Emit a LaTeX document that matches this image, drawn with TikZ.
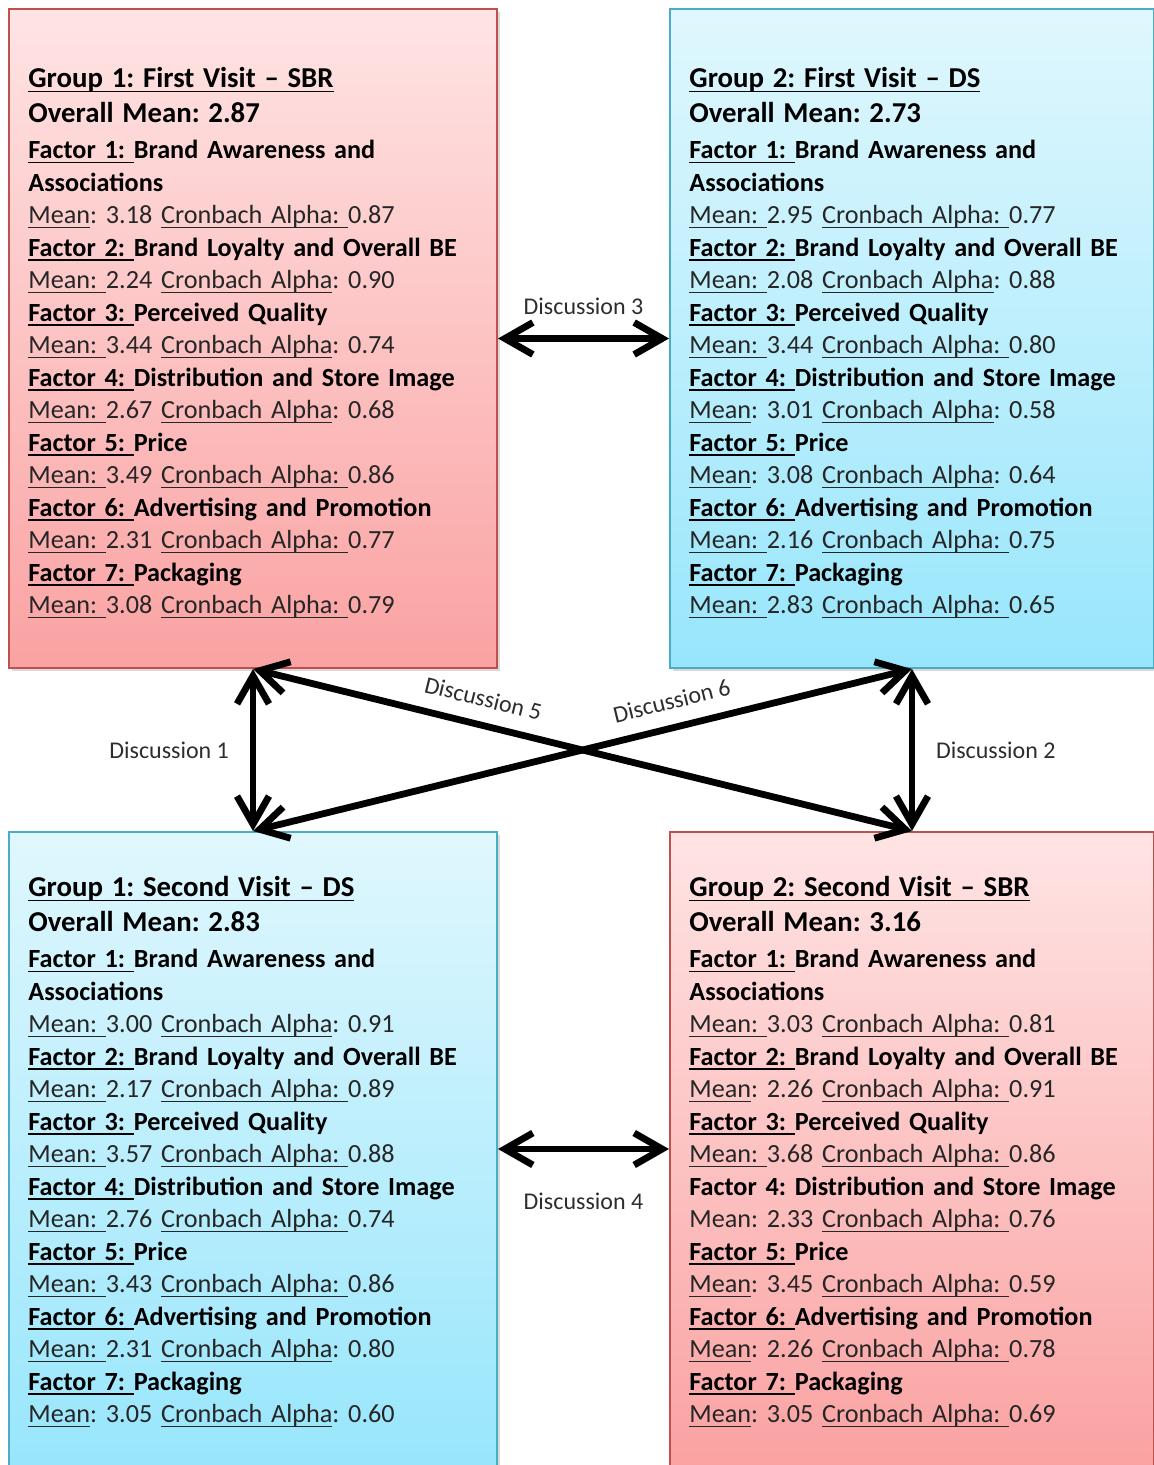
\documentclass[tikz,border=0pt]{standalone}
\usepackage{fontspec}
\setmainfont{Carlito}
\usetikzlibrary{arrows.meta,positioning,shadows}

\definecolor{redtop}{RGB}{255,228,228}
\definecolor{redbot}{RGB}{250,162,162}
\definecolor{redline}{RGB}{192,80,77}
\definecolor{bluetop}{RGB}{224,247,253}
\definecolor{bluebot}{RGB}{152,230,252}
\definecolor{blueline}{RGB}{75,172,198}
\definecolor{meantext}{RGB}{38,38,38}
\definecolor{disctext}{RGB}{45,45,45}

\newsavebox{\undbox}
\newcommand{\und}[1]{\leavevmode\sbox{\undbox}{#1}%
  \rlap{\rule[-2.2pt]{\wd\undbox}{0.7pt}}\usebox{\undbox}}
\newcommand{\ttl}[1]{{\fontsize{14.4}{17.5}\selectfont\bfseries\color{black}#1}}
\newcommand{\fac}[2]{{\bfseries\color{black}\und{Factor #1:\ }#2}}
\newcommand{\bld}[1]{{\bfseries\color{black}#1}}

\begin{document}
\frenchspacing
\begin{tikzpicture}[x=0.5pt,y=-0.5pt,
  groupbox/.style={line width=1pt,
    drop shadow={shadow xshift=1.5pt,shadow yshift=-1.5pt,opacity=0.3}},
  sbrbox/.style={groupbox,draw=redline,top color=redtop,bottom color=redbot},
  dsbox/.style={groupbox,draw=blueline,top color=bluetop,bottom color=bluebot},
  info/.style={anchor=north west,text width=240pt,align=left,inner sep=0pt,
    text=meantext,font=\fontsize{13.1}{16.25}\selectfont\frenchspacing},
  discuss/.style={{Straight Barb[length=14pt,width=16pt]}-{Straight Barb[length=14pt,width=16pt]},
    line width=3.4pt,line cap=round},
  disclabel/.style={text=disctext,font=\fontsize{12}{14}\selectfont}]
  \useasboundingbox (0,0) rectangle (1154,1465);

  \node[sbrbox,minimum width=244pt,minimum height=329.5pt] (g1fv) at (253,338.5) {};
  \node[dsbox,minimum width=242pt,minimum height=329.5pt] (g2fv) at (912,338.5) {};
  \node[dsbox,minimum width=244pt,minimum height=317pt] (g1sv) at (253,1149) {};
  \node[sbrbox,minimum width=242pt,minimum height=317pt] (g2sv) at (912,1149) {};

  \node[info] (t1fv) at ([shift={(20,59)}]g1fv.north west) {%
    \ttl{\und{Group 1: First Visit – SBR}}\\[1.25pt]
    \ttl{Overall Mean: 2.87}\\[1.75pt]
    \fac{1}{Brand Awareness and}\\
    \bld{Associations}\\
    \und{Mean}: 3.18 \und{Cronbach Alpha:\ }0.87\\
    \fac{2}{Brand Loyalty and Overall BE}\\
    \und{Mean:\ }2.24 \und{Cronbach Alpha}: 0.90\\
    \fac{3}{Perceived Quality}\\
    \und{Mean:\ }3.44 \und{Cronbach Alpha}: 0.74\\
    \fac{4}{Distribution and Store Image}\\
    \und{Mean:\ }2.67 \und{Cronbach Alpha}: 0.68\\
    \fac{5}{Price}\\
    \und{Mean:\ }3.49 \und{Cronbach Alpha:\ }0.86\\
    \fac{6}{Advertising and Promotion}\\
    \und{Mean:\ }2.31 \und{Cronbach Alpha:\ }0.77\\
    \fac{7}{Packaging}\\
    \und{Mean:\ }3.08 \und{Cronbach Alpha:\ }0.79};

  \node[info] (t2fv) at ([shift={(20,59)}]g2fv.north west) {%
    \ttl{\und{Group 2: First Visit – DS}}\\[1.25pt]
    \ttl{Overall Mean: 2.73}\\[1.75pt]
    \fac{1}{Brand Awareness and}\\
    \bld{Associations}\\
    \und{Mean:\ }2.95 \und{Cronbach Alpha:\ }0.77\\
    \fac{2}{Brand Loyalty and Overall BE}\\
    \und{Mean:\ }2.08 \und{Cronbach Alpha}: 0.88\\
    \fac{3}{Perceived Quality}\\
    \und{Mean:\ }3.44 \und{Cronbach Alpha:\ }0.80\\
    \fac{4}{Distribution and Store Image}\\
    \und{Mean}: 3.01 \und{Cronbach Alpha}: 0.58\\
    \fac{5}{Price}\\
    \und{Mean}: 3.08 \und{Cronbach Alpha}: 0.64\\
    \fac{6}{Advertising and Promotion}\\
    \und{Mean:\ }2.16 \und{Cronbach Alpha:\ }0.75\\
    \fac{7}{Packaging}\\
    \und{Mean:\ }2.83 \und{Cronbach Alpha:\ }0.65};

  \node[info] (t1sv) at ([shift={(20,45)}]g1sv.north west) {%
    \ttl{\und{Group 1: Second Visit – DS}}\\[1.25pt]
    \ttl{Overall Mean: 2.83}\\[1.75pt]
    \fac{1}{Brand Awareness and}\\
    \bld{Associations}\\
    \und{Mean:\ }3.00 \und{Cronbach Alpha}: 0.91\\
    \fac{2}{Brand Loyalty and Overall BE}\\
    \und{Mean:\ }2.17 \und{Cronbach Alpha:\ }0.89\\
    \fac{3}{Perceived Quality}\\
    \und{Mean:\ }3.57 \und{Cronbach Alpha:\ }0.88\\
    \fac{4}{Distribution and Store Image}\\
    \und{Mean:\ }2.76 \und{Cronbach Alpha:\ }0.74\\
    \fac{5}{Price}\\
    \und{Mean:\ }3.43 \und{Cronbach Alpha:\ }0.86\\
    \fac{6}{Advertising and Promotion}\\
    \und{Mean:\ }2.31 \und{Cronbach Alpha}: 0.80\\
    \fac{7}{Packaging}\\
    \und{Mean}: 3.05 \und{Cronbach Alpha}: 0.60};

  \node[info] (t2sv) at ([shift={(20,45)}]g2sv.north west) {%
    \ttl{\und{Group 2: Second Visit – SBR}}\\[1.25pt]
    \ttl{Overall Mean: 3.16}\\[1.75pt]
    \fac{1}{Brand Awareness and}\\
    \bld{Associations}\\
    \und{Mean:\ }3.03 \und{Cronbach Alpha:\ }0.81\\
    \fac{2}{Brand Loyalty and Overall BE}\\
    \und{Mean}: 2.26 \und{Cronbach Alpha:\ }0.91\\
    \fac{3}{Perceived Quality}\\
    \und{Mean:\ }3.68 \und{Cronbach Alpha:\ }0.86\\
    \bld{Factor 4: Distribution and Store Image}\\
    Mean: 2.33 \und{Cronbach Alpha:\ }0.76\\
    \fac{5}{Price}\\
    \und{Mean}: 3.45 \und{Cronbach Alpha:\ }0.59\\
    \fac{6}{Advertising and Promotion}\\
    \und{Mean}: 2.26 \und{Cronbach Alpha:\ }0.78\\
    \fac{7}{Packaging}\\
    \und{Mean}: 3.05 \und{Cronbach Alpha:\ }0.69};

  \draw[discuss] (g1fv.south) -- node[disclabel,midway,left=7pt] {Discussion 1} (g1sv.north);
  \draw[discuss] (g2fv.south) -- node[disclabel,midway,right=7pt] {Discussion 2} (g2sv.north);
  \draw[discuss] (g1fv.east) -- node[disclabel,midway,above=7pt] {Discussion 3} (g2fv.west);
  \draw[discuss] (g1sv.east) -- node[disclabel,midway,below=17pt] {Discussion 4} (g2sv.west);
  \draw[discuss] (g1fv.south) -- node[disclabel,pos=0.34,sloped,above=4pt] {Discussion 5} (g2sv.north);
  \draw[discuss] (g1sv.north) -- node[disclabel,pos=0.645,sloped,above=4pt] {Discussion 6} (g2fv.south);
\end{tikzpicture}
\end{document}
